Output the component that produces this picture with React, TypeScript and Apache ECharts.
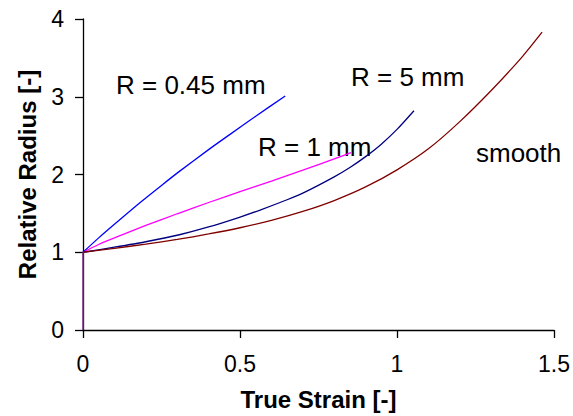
import React, { useEffect, useRef } from "react";
import * as echarts from "echarts";

// True strain (x) and relative radius (y) for each tool radius
const stemX = [0, 0];
const stemY = [0, 1];

const r045X = [0, 0.05, 0.1, 0.185, 0.25, 0.307, 0.4, 0.466, 0.55, 0.644];
const r045Y = [1, 1.185, 1.36, 1.65, 1.86, 2.04, 2.32, 2.51, 2.75, 3.01];

const r1X = [0, 0.05, 0.1, 0.2, 0.3, 0.4, 0.5, 0.6, 0.7, 0.8, 0.853];
const r1Y = [1, 1.1, 1.185, 1.345, 1.495, 1.64, 1.78, 1.915, 2.055, 2.2, 2.28];

const r5X = [0, 0.1, 0.2, 0.307, 0.4, 0.498, 0.562, 0.65, 0.7, 0.8, 0.85, 0.9, 0.95, 1.0, 1.054];
const r5Y = [1, 1.065, 1.135, 1.225, 1.325, 1.45, 1.54, 1.675, 1.76, 1.97, 2.09, 2.23, 2.39, 2.58, 2.82];

const smoothX = [0, 0.1, 0.2, 0.3, 0.4, 0.5, 0.6, 0.7, 0.8, 0.9, 1.0, 1.1, 1.2, 1.3, 1.4, 1.462];
const smoothY = [1, 1.05, 1.105, 1.165, 1.235, 1.315, 1.41, 1.525, 1.665, 1.84, 2.06, 2.33, 2.68, 3.08, 3.52, 3.83];

const xTicks = [0, 0.5, 1, 1.5];
const yTicks = [0, 1, 2, 3, 4];

const labels = ["R = 0.45 mm", "R = 5 mm", "R = 1 mm", "smooth"];

const zip = (xs: number[], ys: number[]) => xs.map((x, i) => [x, ys[i]]);

const FONT = "'Liberation Sans', Arial, sans-serif";

export default function App() {
  const ref = useRef<HTMLDivElement>(null);
  useEffect(() => {
    if (!ref.current) return;
    const chart = echarts.init(ref.current, null, { renderer: "svg" });
    const curve = (name: string, xs: number[], ys: number[], color: string) => ({
      name,
      type: "line",
      data: zip(xs, ys),
      showSymbol: false,
      smooth: 0.25,
      lineStyle: { color, width: 1.3 },
      itemStyle: { color },
      z: 3,
    });
    chart.setOption({
      animation: false,
      backgroundColor: "#ffffff",
      grid: { left: 83, right: 17.5, top: 19, bottom: 86, containLabel: false },
      xAxis: {
        type: "value",
        min: xTicks[0],
        max: xTicks[xTicks.length - 1],
        interval: 0.5,
        name: "True Strain [-]",
        nameLocation: "middle",
        nameGap: 57,
        nameTextStyle: { fontFamily: FONT, fontWeight: "bold", fontSize: 24, color: "#000" },
        axisLine: { onZero: false, lineStyle: { color: "#000", width: 1.3 } },
        axisTick: { show: true, length: 8, lineStyle: { color: "#000", width: 1.3 } },
        axisLabel: { fontFamily: FONT, fontSize: 23, color: "#000", margin: 22 },
        splitLine: { show: false },
      },
      yAxis: {
        type: "value",
        min: yTicks[0],
        max: yTicks[yTicks.length - 1],
        interval: 1,
        name: "Relative Radius [-]",
        nameLocation: "middle",
        nameGap: 44,
        nameTextStyle: { fontFamily: FONT, fontWeight: "bold", fontSize: 24, color: "#000" },
        axisLine: { show: true, onZero: false, lineStyle: { color: "#000", width: 1.3 } },
        axisTick: { show: true, length: 8, lineStyle: { color: "#000", width: 1.3 } },
        axisLabel: { fontFamily: FONT, fontSize: 23, color: "#000", margin: 19 },
        splitLine: { show: false },
      },
      series: [
        curve("R = 0.45 mm", r045X, r045Y, "#0000ff"),
        curve("R = 1 mm", r1X, r1Y, "#ff00ff"),
        curve("R = 5 mm", r5X, r5Y, "#000080"),
        curve("smooth", smoothX, smoothY, "#800000"),
        {
          name: "stem",
          type: "line",
          data: zip(stemX, stemY),
          showSymbol: false,
          lineStyle: { color: "#7a2a8a", width: 1.5 },
          z: 4,
        },
      ],
      graphic: [
        { type: "text", x: 116, y: 85, style: { text: labels[0], font: `26px ${FONT}`, fill: "#000", verticalAlign: "middle", align: "left" } },
        { type: "text", x: 351, y: 77, style: { text: labels[1], font: `26px ${FONT}`, fill: "#000", verticalAlign: "middle", align: "left" } },
        { type: "text", x: 258, y: 147, style: { text: labels[2], font: `26px ${FONT}`, fill: "#000", verticalAlign: "middle", align: "left" } },
        { type: "text", x: 476, y: 153, style: { text: labels[3], font: `26px ${FONT}`, fill: "#000", verticalAlign: "middle", align: "left" } },
      ],
    });
    return () => chart.dispose();
  }, []);
  return (
    <div
      ref={ref}
      style={{ position: "fixed", left: 0, top: 0, width: 573, height: 416, background: "#fff" }}
    />
  );
}
